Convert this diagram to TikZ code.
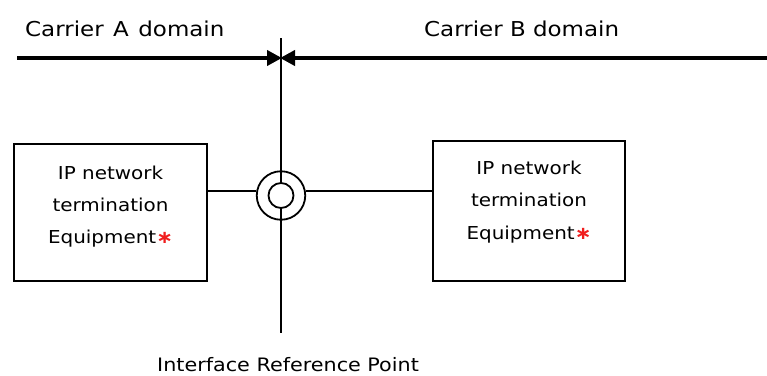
\documentclass[tikz,border=0pt]{standalone}
\usepackage{fontspec}
\setmainfont[FakeStretch=1.12]{DejaVu Sans}
\usetikzlibrary{arrows.meta}
\definecolor{starred}{RGB}{240,30,30}
\newcommand{\redstar}{{\color{starred}\bfseries ∗}}
\tikzset{
  domtext/.style={anchor=base west, inner sep=0pt, font=\fontsize{20.5}{24}\selectfont},
  boxtext/.style={anchor=base, inner sep=0pt, font=\fontsize{17.8}{22}\selectfont},
  eqbox/.style={draw, line width=1.8pt, inner sep=0pt},
  thin/.style={line width=1.8pt},
  domline/.style={line width=4.4pt, -{Triangle[length=15pt,width=15pt]}, shorten >=-1pt}
}
\begin{document}
\begin{tikzpicture}[x=1pt,y=-1pt]
\useasboundingbox (0,0) rectangle (767,375);
% reference line
\coordinate (vtop) at (281,38);
\coordinate (vbot) at (281,333);
\draw[thin] (vtop) -- (vbot);
% domain lines
\coordinate (aL) at (17,58);
\coordinate (mid) at (281,58);
\coordinate (bR) at (767,58);
\draw[domline] (aL) -- (mid);
\draw[domline] (bR) -- (mid);
\node[domtext] (ta) at (25,36.5) {Carrier\hspace{9.5pt}A\hspace{9.5pt}domain};
\node[domtext] (tb) at (424,36.5) {Carrier B domain};
% boxes
\node[eqbox, minimum width=193pt, minimum height=137pt] (boxA) at (110.5,212.5) {};
\node[eqbox, minimum width=192pt, minimum height=140pt] (boxB) at (529,211) {};
\node[boxtext] (a1) at (110.5,179.3) {IP network};
\node[boxtext] (a2) at (110.5,211.7) {termination};
\node[boxtext] (a3) at (110.5,243.3) {Equipment\redstar};
\node[boxtext] (b1) at (529,174.3) {IP network};
\node[boxtext] (b2) at (529,206.7) {termination};
\node[boxtext] (b3) at (529,239) {Equipment\redstar};
% interface point
\node[circle, draw, thin, minimum size=48.5pt, inner sep=0pt] (outer) at (281,195.5) {};
\node[circle, draw, thin, fill=white, minimum size=25pt, inner sep=0pt] (inner) at (281,195.5) {};
\coordinate (hl) at (207,190.7);
\coordinate (hr) at (433,190.7);
\draw[thin] (boxA.east |- hl) -- (outer.west |- hl);
\draw[thin] (outer.east |- hr) -- (boxB.west |- hr);
\node[anchor=base west, inner sep=0pt, font=\fontsize{18.5}{22}\selectfont] (irp) at (157,371) {Interface Reference Point};
\end{tikzpicture}
\end{document}
